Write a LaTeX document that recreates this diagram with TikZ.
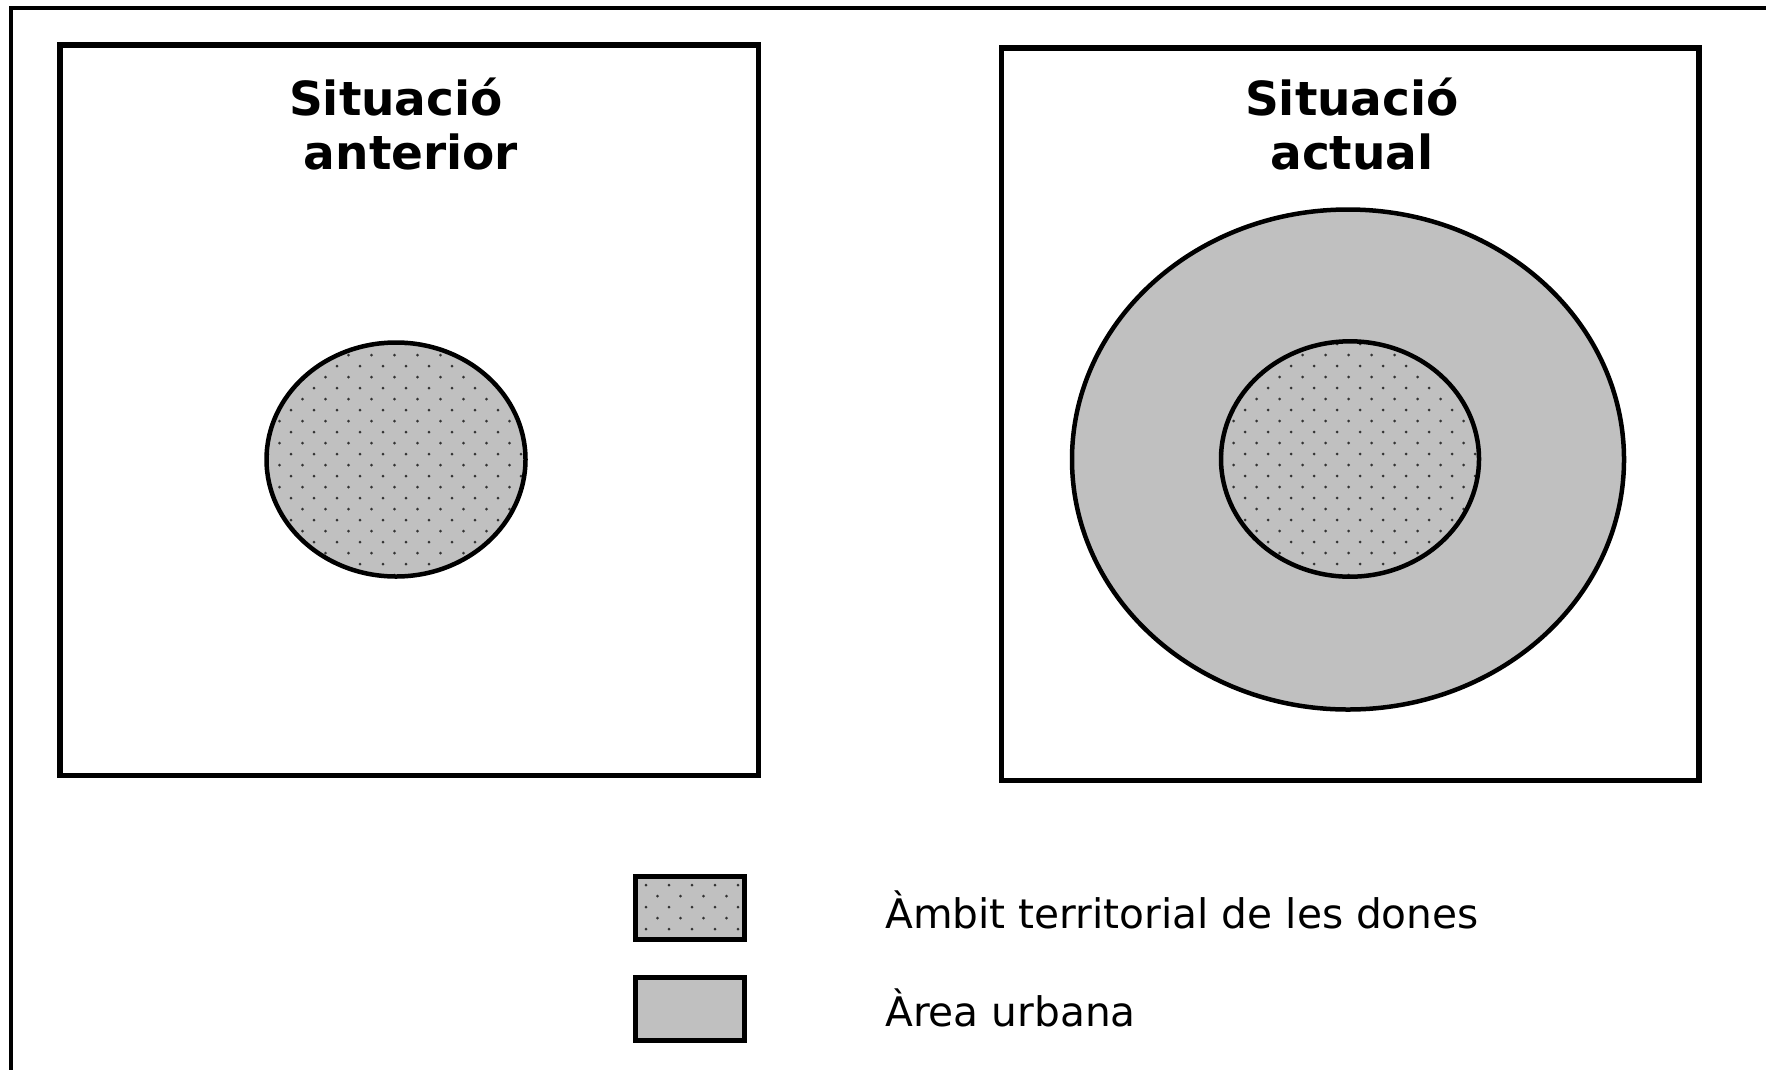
\documentclass[tikz,border=0pt]{standalone}
\usepackage{fontspec}
\setmainfont{DejaVu Sans}
\definecolor{urban}{HTML}{C0C0C0}
\definecolor{dotc}{HTML}{333333}
\newcommand{\mydotgrid}[4]{%
  \foreach \r in {0,...,#4}{%
    \foreach \c in {0,...,#3}{%
      \fill[dotc] ({#1+\c*23+mod(\r,2)*11.5},{#2+\r*11}) circle[radius=1.5pt];
    }%
  }%
}
\tikzset{
  panel/.style={draw=black, line width=5.5pt, fill=white, inner sep=0pt, outer sep=0pt},
  outline/.style={draw=black, line width=4.5pt},
  legbox/.style={draw=black, line width=5pt, fill=urban, inner sep=0pt, outer sep=0pt, minimum width=109pt, minimum height=63pt},
  title/.style={font=\fontsize{47}{54}\selectfont\bfseries, anchor=base, inner sep=0pt},
  legtext/.style={font=\fontsize{40.7}{48}\selectfont, anchor=base west, inner sep=0pt}
}
\begin{document}
\begin{tikzpicture}[x=1pt,y=-1pt]
\useasboundingbox (0,0) rectangle (1766,1069);
\fill[white] (0,0) rectangle (1766,1069);
% outer frame (partially visible)
\coordinate (fbl) at (11,1080);
\coordinate (ftl) at (11,8);
\coordinate (ftr) at (1780,8);
\draw[line width=4.5pt] (fbl) -- (ftl) -- (ftr);
% panels
\node[panel, minimum width=698.5pt, minimum height=730.5pt] (leftpanel) at (409.25,410.25) {};
\node[panel, minimum width=697.3pt, minimum height=732.5pt] (rightpanel) at (1350.35,414.25) {};
% titles
\node[title] (t1a) at (396,115) {Situació};
\node[title] (t1b) at (411,169) {anterior};
\node[title] (t2a) at (1352,115) {Situació};
\node[title] (t2b) at (1352,169) {actual};
% left circle
\coordinate (lc) at (396,459.5);
\fill[urban] (lc) ellipse [x radius=129.5, y radius=117];
\begin{scope}
  \clip (lc) ellipse [x radius=129.5, y radius=117];
  \mydotgrid{268}{344}{12}{22}
\end{scope}
\draw[outline] (lc) ellipse [x radius=129.5, y radius=117];
% right: urban area
\coordinate (rc) at (1348,459.5);
\coordinate (ric) at (1350,459);
\fill[urban] (rc) ellipse [x radius=276, y radius=250];
\draw[outline] (rc) ellipse [x radius=276, y radius=250];
\begin{scope}
  \clip (ric) ellipse [x radius=129, y radius=117.7];
  \mydotgrid{1222}{344}{12}{22}
\end{scope}
\draw[outline] (ric) ellipse [x radius=129, y radius=117.7];
% legend
\node[legbox] (leg1) at (689.5,907.5) {};
\begin{scope}
  \clip (leg1.south west) rectangle (leg1.north east);
  \mydotgrid{646}{885}{5}{5}
\end{scope}
\draw[line width=5pt] (leg1.south west) rectangle (leg1.north east);
\node[legbox] (leg2) at (689.5,1008.5) {};
\node[legtext] (l1) at (885,928) {Àmbit territorial de les dones};
\node[legtext] (l2) at (885,1026) {Àrea urbana};
\end{tikzpicture}
\end{document}
